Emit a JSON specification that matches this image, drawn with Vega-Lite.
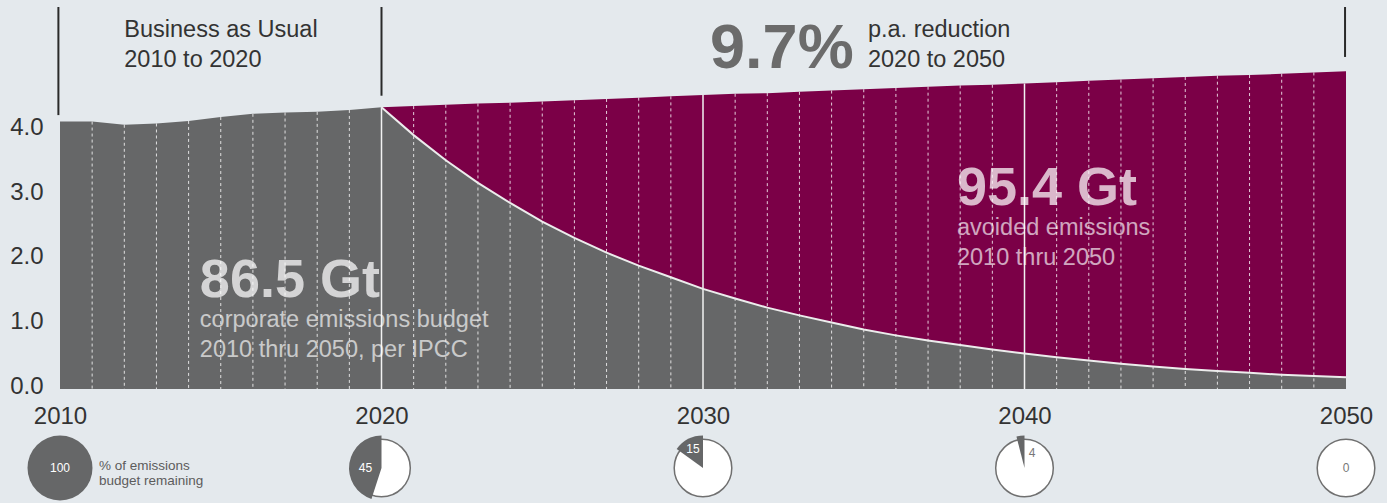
{
  "$schema": "https://vega.github.io/schema/vega-lite/v6.json",
  "width": 1286,
  "height": 503,
  "autosize": {"type": "none"},
  "padding": {"left": 60, "top": 0, "right": 41, "bottom": 0},
  "background": "#e4e9ed",
  "config": {"view": {"stroke": null}, "font": "Liberation Sans", "text": {"font": "Liberation Sans"}},
  "datasets": {
    "em": [
      {"year": 2010, "bau": 4.14, "path": 4.14},
      {"year": 2011, "bau": 4.14, "path": 4.14},
      {"year": 2012, "bau": 4.09, "path": 4.09},
      {"year": 2013, "bau": 4.11, "path": 4.11},
      {"year": 2014, "bau": 4.15, "path": 4.15},
      {"year": 2015, "bau": 4.21, "path": 4.21},
      {"year": 2016, "bau": 4.26, "path": 4.26},
      {"year": 2017, "bau": 4.28, "path": 4.28},
      {"year": 2018, "bau": 4.29, "path": 4.29},
      {"year": 2019, "bau": 4.32, "path": 4.32},
      {"year": 2020, "bau": 4.36, "path": 4.36},
      {"year": 2021, "bau": 4.38, "path": 3.93},
      {"year": 2022, "bau": 4.40, "path": 3.54},
      {"year": 2023, "bau": 4.42, "path": 3.19},
      {"year": 2024, "bau": 4.43, "path": 2.88},
      {"year": 2025, "bau": 4.45, "path": 2.59},
      {"year": 2026, "bau": 4.47, "path": 2.34},
      {"year": 2027, "bau": 4.49, "path": 2.11},
      {"year": 2028, "bau": 4.51, "path": 1.91},
      {"year": 2029, "bau": 4.53, "path": 1.73},
      {"year": 2030, "bau": 4.55, "path": 1.55},
      {"year": 2031, "bau": 4.57, "path": 1.40},
      {"year": 2032, "bau": 4.58, "path": 1.26},
      {"year": 2033, "bau": 4.60, "path": 1.14},
      {"year": 2034, "bau": 4.62, "path": 1.03},
      {"year": 2035, "bau": 4.64, "path": 0.92},
      {"year": 2036, "bau": 4.66, "path": 0.83},
      {"year": 2037, "bau": 4.68, "path": 0.75},
      {"year": 2038, "bau": 4.70, "path": 0.68},
      {"year": 2039, "bau": 4.71, "path": 0.61},
      {"year": 2040, "bau": 4.73, "path": 0.55},
      {"year": 2041, "bau": 4.75, "path": 0.49},
      {"year": 2042, "bau": 4.77, "path": 0.44},
      {"year": 2043, "bau": 4.79, "path": 0.39},
      {"year": 2044, "bau": 4.81, "path": 0.35},
      {"year": 2045, "bau": 4.83, "path": 0.31},
      {"year": 2046, "bau": 4.85, "path": 0.28},
      {"year": 2047, "bau": 4.86, "path": 0.25},
      {"year": 2048, "bau": 4.88, "path": 0.22},
      {"year": 2049, "bau": 4.90, "path": 0.20},
      {"year": 2050, "bau": 4.92, "path": 0.18}
    ],
    "pies": [
      {"year": 2010, "pct": 100},
      {"year": 2020, "pct": 45},
      {"year": 2030, "pct": 15},
      {"year": 2040, "pct": 4},
      {"year": 2050, "pct": 0}
    ]
  },
  "layer": [
    {
      "data": {"name": "em"},
      "transform": [{"filter": "datum.year >= 2020"}],
      "mark": {"type": "area", "color": "#7b0047", "interpolate": "linear"},
      "encoding": {
        "x": {"field": "year", "type": "quantitative", "title": null,
          "scale": {"domain": [2010, 2050], "nice": false, "zero": false},
          "axis": {"values": [2010, 2020, 2030, 2040, 2050], "format": "d", "labelFontSize": 24, "labelColor": "#333333", "labelFont": "Liberation Sans", "labelBaseline": "alphabetic", "labelPadding": 0, "ticks": false, "tickSize": 0, "domain": false, "grid": false, "offset": -80, "labelFlush": false, "labelOverlap": false, "title": null}},
        "y": {"field": "bau", "type": "quantitative", "title": null,
          "scale": {"domain": [-1.7647, 6.0217], "nice": false, "zero": false},
          "axis": {"values": [0, 1, 2, 3, 4], "format": ".1f", "labelFontSize": 24, "labelColor": "#333333", "labelFont": "Liberation Sans", "labelBaseline": "alphabetic", "labelOffset": 4, "labelPadding": 17, "ticks": false, "tickSize": 0, "domain": false, "grid": false, "title": null}},
        "y2": {"datum": 0}
      }
    },
    {
      "data": {"name": "em"},
      "mark": {"type": "area", "color": "#666768", "interpolate": "linear"},
      "encoding": {
        "x": {"field": "year", "type": "quantitative", "title": null},
        "y": {"field": "path", "type": "quantitative", "title": null},
        "y2": {"datum": 0}
      }
    },
    {
      "data": {"name": "em"},
      "transform": [{"filter": "datum.year % 10 != 0"}],
      "mark": {"type": "rule", "color": "white", "strokeWidth": 1, "strokeDash": [3, 3], "opacity": 0.8},
      "encoding": {
        "x": {"field": "year", "type": "quantitative", "title": null},
        "y": {"field": "bau", "type": "quantitative", "title": null},
        "y2": {"datum": 0}
      }
    },
    {
      "data": {"name": "em"},
      "transform": [{"filter": "datum.year % 10 == 0 && datum.year > 2010 && datum.year < 2050"}],
      "mark": {"type": "rule", "color": "#f2f2f2", "strokeWidth": 1.5},
      "encoding": {
        "x": {"field": "year", "type": "quantitative", "title": null},
        "y": {"field": "bau", "type": "quantitative", "title": null},
        "y2": {"datum": 0}
      }
    },
    {
      "data": {"name": "em"},
      "transform": [{"filter": "datum.year >= 2020"}],
      "mark": {"type": "line", "color": "#ececec", "strokeWidth": 2},
      "encoding": {
        "x": {"field": "year", "type": "quantitative", "title": null},
        "y": {"field": "path", "type": "quantitative", "title": null}
      }
    },
    {
      "data": {"values": [{}]},
      "mark": {"type": "text", "text": ["Business as Usual", "2010 to 2020"], "align": "left", "baseline": "alphabetic", "fontSize": 23.5, "lineHeight": 30, "color": "#333333"},
      "encoding": {"x": {"datum": 2012}, "y": {"datum": 5.449}}
    },
    {
      "data": {"values": [{}]},
      "mark": {"type": "text", "text": "9.7%", "align": "left", "baseline": "alphabetic", "fontSize": 63, "fontWeight": "bold", "color": "#6b6b6b"},
      "encoding": {"x": {"datum": 2030.22}, "y": {"datum": 4.969}}
    },
    {
      "data": {"values": [{}]},
      "mark": {"type": "text", "text": ["p.a. reduction", "2020 to 2050"], "align": "left", "baseline": "alphabetic", "fontSize": 23.5, "lineHeight": 30, "color": "#333333"},
      "encoding": {"x": {"datum": 2035.13}, "y": {"datum": 5.449}}
    },
    {
      "data": {"values": [{}]},
      "mark": {"type": "text", "text": "86.5 Gt", "align": "left", "baseline": "alphabetic", "fontSize": 54, "fontWeight": "bold", "color": "white", "opacity": 0.72},
      "encoding": {"x": {"datum": 2014.35}, "y": {"datum": 1.424}}
    },
    {
      "data": {"values": [{}]},
      "mark": {"type": "text", "text": ["corporate emissions budget", "2010 thru 2050, per IPCC"], "align": "left", "baseline": "alphabetic", "fontSize": 23.5, "lineHeight": 30, "color": "white", "opacity": 0.65},
      "encoding": {"x": {"datum": 2014.35}, "y": {"datum": 0.96}}
    },
    {
      "data": {"values": [{}]},
      "mark": {"type": "text", "text": "95.4 Gt", "align": "left", "baseline": "alphabetic", "fontSize": 54, "fontWeight": "bold", "color": "white", "opacity": 0.72},
      "encoding": {"x": {"datum": 2037.9}, "y": {"datum": 2.848}}
    },
    {
      "data": {"values": [{}]},
      "mark": {"type": "text", "text": ["avoided emissions", "2010 thru 2050"], "align": "left", "baseline": "alphabetic", "fontSize": 23.5, "lineHeight": 30, "color": "white", "opacity": 0.65},
      "encoding": {"x": {"datum": 2037.9}, "y": {"datum": 2.384}}
    },
    {
      "data": {"values": [{}]},
      "mark": {"type": "text", "text": ["% of emissions", "budget remaining"], "align": "left", "baseline": "alphabetic", "fontSize": 13.5, "lineHeight": 15, "color": "#5c5c5c"},
      "encoding": {"x": {"datum": 2011.21}, "y": {"datum": -1.254}}
    },
    {
      "data": {"values": [{}]},
      "mark": {"type": "rule", "color": "#2a2a2a", "strokeWidth": 2},
      "encoding": {"x": {"datum": 2009.95}, "y": {"datum": 5.913}, "y2": {"datum": 4.24}}
    },
    {
      "data": {"values": [{}]},
      "mark": {"type": "rule", "color": "#2a2a2a", "strokeWidth": 2},
      "encoding": {"x": {"datum": 2020}, "y": {"datum": 5.913}, "y2": {"datum": 4.54}}
    },
    {
      "data": {"values": [{}]},
      "mark": {"type": "rule", "color": "#2a2a2a", "strokeWidth": 2},
      "encoding": {"x": {"datum": 2049.97}, "y": {"datum": 5.913}, "y2": {"datum": 5.14}}
    },
    {
      "data": {"name": "pies"},
      "mark": {"type": "point", "shape": "circle", "size": 3318, "filled": true, "fill": "white", "stroke": "#707070", "strokeWidth": 1.5, "opacity": 1},
      "encoding": {
        "x": {"field": "year", "type": "quantitative", "title": null},
        "y": {"datum": -1.223}
      }
    },
    {
      "data": {"name": "pies"},
      "transform": [{"filter": "datum.year == 2010"}],
      "mark": {"type": "arc", "radius": 32.5, "fill": "#666768", "theta2": 6.2832},
      "encoding": {
        "x": {"field": "year", "type": "quantitative", "title": null},
        "y": {"datum": -1.223},
        "theta": {"field": "pct", "type": "quantitative", "scale": {"domain": [0, 100], "range": [6.2832, 0]}}
      }
    },
    {
      "data": {"name": "pies"},
      "transform": [{"filter": "datum.year == 2020"}],
      "mark": {"type": "arc", "radius": 32.5, "fill": "#666768", "theta2": 6.2832},
      "encoding": {
        "x": {"field": "year", "type": "quantitative", "title": null},
        "y": {"datum": -1.223},
        "theta": {"field": "pct", "type": "quantitative", "scale": {"domain": [0, 100], "range": [6.2832, 0]}}
      }
    },
    {
      "data": {"name": "pies"},
      "transform": [{"filter": "datum.year == 2030"}],
      "mark": {"type": "arc", "radius": 32.5, "fill": "#666768", "theta2": 6.2832},
      "encoding": {
        "x": {"field": "year", "type": "quantitative", "title": null},
        "y": {"datum": -1.223},
        "theta": {"field": "pct", "type": "quantitative", "scale": {"domain": [0, 100], "range": [6.2832, 0]}}
      }
    },
    {
      "data": {"name": "pies"},
      "transform": [{"filter": "datum.year == 2040"}],
      "mark": {"type": "arc", "radius": 32.5, "fill": "#666768", "theta2": 6.2832},
      "encoding": {
        "x": {"field": "year", "type": "quantitative", "title": null},
        "y": {"datum": -1.223},
        "theta": {"field": "pct", "type": "quantitative", "scale": {"domain": [0, 100], "range": [6.2832, 0]}}
      }
    },
    {
      "data": {"name": "pies"},
      "transform": [{"filter": "datum.year == 2010"}],
      "mark": {"type": "text", "fontSize": 12, "color": "white", "align": "center", "baseline": "middle"},
      "encoding": {"x": {"field": "year", "type": "quantitative", "title": null}, "y": {"datum": -1.223}, "text": {"field": "pct", "type": "quantitative"}}
    },
    {
      "data": {"name": "pies"},
      "transform": [{"filter": "datum.year == 2020"}],
      "mark": {"type": "text", "fontSize": 12, "color": "white", "align": "center", "baseline": "middle", "dx": -16},
      "encoding": {"x": {"field": "year", "type": "quantitative", "title": null}, "y": {"datum": -1.223}, "text": {"field": "pct", "type": "quantitative"}}
    },
    {
      "data": {"name": "pies"},
      "transform": [{"filter": "datum.year == 2030"}],
      "mark": {"type": "text", "fontSize": 12, "color": "white", "align": "center", "baseline": "middle", "dx": -10, "dy": -19},
      "encoding": {"x": {"field": "year", "type": "quantitative", "title": null}, "y": {"datum": -1.223}, "text": {"field": "pct", "type": "quantitative"}}
    },
    {
      "data": {"name": "pies"},
      "transform": [{"filter": "datum.year == 2040"}],
      "mark": {"type": "text", "fontSize": 12, "color": "#777777", "align": "center", "baseline": "middle", "dx": 7.5, "dy": -15.5},
      "encoding": {"x": {"field": "year", "type": "quantitative", "title": null}, "y": {"datum": -1.223}, "text": {"field": "pct", "type": "quantitative"}}
    },
    {
      "data": {"name": "pies"},
      "transform": [{"filter": "datum.year == 2050"}],
      "mark": {"type": "text", "fontSize": 12, "color": "#777777", "align": "center", "baseline": "middle"},
      "encoding": {"x": {"field": "year", "type": "quantitative", "title": null}, "y": {"datum": -1.223}, "text": {"field": "pct", "type": "quantitative"}}
    }
  ]
}
